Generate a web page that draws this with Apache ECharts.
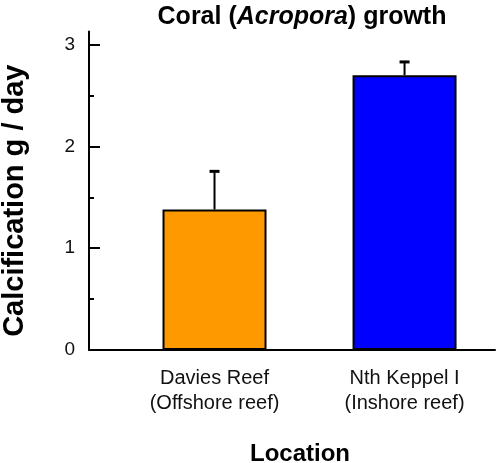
<!DOCTYPE html>
<html>
<head>
<meta charset="utf-8">
<script src="https://cdn.jsdelivr.net/npm/echarts@6/dist/echarts.min.js"></script>
<style>html,body{margin:0;padding:0;background:#fff}#c{width:498px;height:463px}</style>
</head>
<body>
<div id="c"></div>
<script>
const categories = ['Davies Reef\n(Offshore reef)', 'Nth Keppel I\n(Inshore reef)'];
const categoryPositions = [1, 2];
const calcification = [1.38, 2.70];
const errorUpper = [0.375, 0.13];
const barColors = ['#FF9900', '#0000FF'];
const yMajorTicks = [0, 1, 2, 3];
const yMinorTicks = [0.5, 1.5, 2.5];

const FONT = 'Liberation Sans, Arial, Helvetica, sans-serif';
const chart = echarts.init(document.getElementById('c'));

const barData = categoryPositions.map((x, i) => ({
  value: [x, calcification[i]],
  itemStyle: { color: barColors[i] }
}));
const errData = categoryPositions.map((x, i) => [x, calcification[i], errorUpper[i]]);

const yMin = 0, yMax = 3.13;

chart.setOption({
  animation: false,
  title: {
    text: 'Coral ({i|Acropora}) growth',
    left: 297,
    top: 0,
    textAlign: 'center',
    textStyle: {
      fontFamily: FONT, fontWeight: 'bold', fontSize: 25, color: '#000',
      rich: { i: { fontFamily: FONT, fontWeight: 'bold', fontStyle: 'italic', fontSize: 25, color: '#000' } }
    }
  },
  grid: { left: 89, right: 3, top: 31.4, bottom: 113, containLabel: false, outerBoundsMode: 'none' },
  xAxis: {
    type: 'value',
    min: 0.3395,
    max: 2.476,
    name: 'Location',
    nameLocation: 'middle',
    nameGap: 92,
    nameTextStyle: { fontFamily: FONT, fontWeight: 'bold', fontSize: 24, color: '#000', padding: [0, 0, 0, 16] },
    axisLine: { show: true, lineStyle: { color: '#000', width: 2 } },
    axisTick: { show: false },
    splitLine: { show: false },
    axisLabel: {
      customValues: categoryPositions,
      formatter: v => categories[categoryPositions.indexOf(Math.round(v))] || '',
      fontFamily: FONT, fontSize: 20, color: '#111', lineHeight: 25, margin: 16
    }
  },
  yAxis: [{
    type: 'value',
    min: yMin, max: yMax,
    name: 'Calcification g / day',
    nameLocation: 'middle',
    nameRotate: 90,
    nameGap: 60,
    nameTextStyle: { fontFamily: FONT, fontWeight: 'bold', fontSize: 29, color: '#000', padding: [0, 20, 0, 0] },
    axisLine: { show: true, lineStyle: { color: '#000', width: 2 } },
    axisTick: { show: true, inside: true, length: 11, customValues: yMajorTicks, lineStyle: { color: '#000', width: 2 } },
    axisLabel: { customValues: yMajorTicks, fontFamily: FONT, fontSize: 19, color: '#111', margin: 14 },
    splitLine: { show: false }
  }, {
    type: 'value',
    position: 'left',
    min: yMin, max: yMax,
    axisLine: { show: false },
    axisTick: { show: true, inside: true, length: 5, customValues: yMinorTicks, lineStyle: { color: '#000', width: 2 } },
    axisLabel: { show: false },
    splitLine: { show: false }
  }],
  series: [{
    type: 'bar',
    data: barData,
    barWidth: 104,
    itemStyle: { borderColor: '#000', borderWidth: 2 },
    z: 2
  }, {
    type: 'custom',
    data: errData,
    z: 3,
    renderItem: function (params, api) {
      const x = api.value(0), y = api.value(1), e = api.value(2);
      const p0 = api.coord([x, y]);
      const p1 = api.coord([x, y + e]);
      const style = { stroke: '#000', lineWidth: 2 };
      return {
        type: 'group',
        children: [
          { type: 'line', shape: { x1: p0[0], y1: p0[1], x2: p1[0], y2: p1[1] }, style },
          { type: 'line', shape: { x1: p1[0] - 5, y1: p1[1], x2: p1[0] + 5, y2: p1[1] }, style: { stroke: '#000', lineWidth: 3 } }
        ]
      };
    }
  }]
});
</script>
</body>
</html>
